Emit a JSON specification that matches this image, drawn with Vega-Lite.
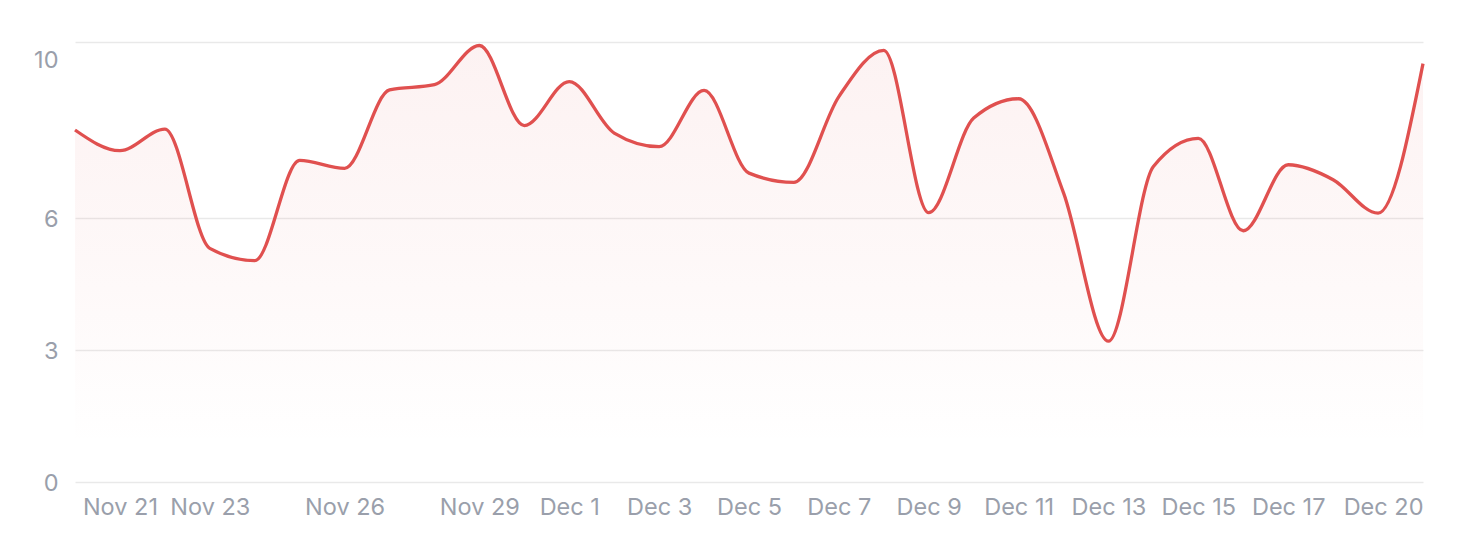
{
  "$schema": "https://vega.github.io/schema/vega-lite/v6.json",
  "width": 1348,
  "height": 440,
  "autosize": {"type": "none"},
  "padding": {"left": 75, "top": 42, "right": 35, "bottom": 64},
  "background": "white",
  "config": {"view": {"stroke": null}, "font": "Inter"},
  "data": {
    "values": [
      {"date": "2023-11-20", "value": 8.0},
      {"date": "2023-11-21", "value": 7.53},
      {"date": "2023-11-22", "value": 8.02},
      {"date": "2023-11-23", "value": 5.31},
      {"date": "2023-11-24", "value": 5.03},
      {"date": "2023-11-25", "value": 7.31},
      {"date": "2023-11-26", "value": 7.13},
      {"date": "2023-11-27", "value": 8.91},
      {"date": "2023-11-28", "value": 9.03},
      {"date": "2023-11-29", "value": 9.92},
      {"date": "2023-11-30", "value": 8.1},
      {"date": "2023-12-01", "value": 9.1},
      {"date": "2023-12-02", "value": 7.93},
      {"date": "2023-12-03", "value": 7.62},
      {"date": "2023-12-04", "value": 8.9},
      {"date": "2023-12-05", "value": 7.02},
      {"date": "2023-12-06", "value": 6.81},
      {"date": "2023-12-07", "value": 8.76},
      {"date": "2023-12-08", "value": 9.81},
      {"date": "2023-12-09", "value": 6.12},
      {"date": "2023-12-10", "value": 8.27},
      {"date": "2023-12-11", "value": 8.71},
      {"date": "2023-12-12", "value": 6.57},
      {"date": "2023-12-13", "value": 3.2},
      {"date": "2023-12-14", "value": 7.17},
      {"date": "2023-12-15", "value": 7.81},
      {"date": "2023-12-16", "value": 5.71},
      {"date": "2023-12-17", "value": 7.21},
      {"date": "2023-12-18", "value": 6.87},
      {"date": "2023-12-19", "value": 6.11},
      {"date": "2023-12-20", "value": 9.51}
    ]
  },
  "encoding": {
    "x": {
      "field": "date",
      "type": "temporal",
      "scale": {"type": "utc", "nice": false},
      "axis": {
        "title": null,
        "format": "%b %-d",
        "values": [
          {"year": 2023, "month": 11, "date": 21, "utc": true},
          {"year": 2023, "month": 11, "date": 23, "utc": true},
          {"year": 2023, "month": 11, "date": 26, "utc": true},
          {"year": 2023, "month": 11, "date": 29, "utc": true},
          {"year": 2023, "month": 12, "date": 1, "utc": true},
          {"year": 2023, "month": 12, "date": 3, "utc": true},
          {"year": 2023, "month": 12, "date": 5, "utc": true},
          {"year": 2023, "month": 12, "date": 7, "utc": true},
          {"year": 2023, "month": 12, "date": 9, "utc": true},
          {"year": 2023, "month": 12, "date": 11, "utc": true},
          {"year": 2023, "month": 12, "date": 13, "utc": true},
          {"year": 2023, "month": 12, "date": 15, "utc": true},
          {"year": 2023, "month": 12, "date": 17, "utc": true},
          {"year": 2023, "month": 12, "date": 20, "utc": true}
        ],
        "grid": false,
        "domain": false,
        "ticks": false,
        "labelFlush": true,
        "labelOverlap": false,
        "labelPadding": 13,
        "labelFontSize": 23.5,
        "labelColor": "#9a9fab"
      }
    },
    "y": {
      "field": "value",
      "type": "quantitative",
      "scale": {"domain": [0, 10], "nice": false},
      "axis": {
        "title": null,
        "values": [0, 3, 6, 10],
        "grid": true,
        "gridColor": "#e9e9e9",
        "gridWidth": 1.3,
        "domain": false,
        "ticks": false,
        "labelPadding": 17,
        "labelFontSize": 23.5,
        "labelColor": "#9a9fab",
        "labelOffset": {"condition": {"test": "datum.value === 10", "value": 18}, "value": 1}
      }
    }
  },
  "layer": [
    {
      "mark": {
        "type": "area",
        "interpolate": "monotone",
        "color": {
          "gradient": "linear",
          "x1": 0, "y1": 0, "x2": 0, "y2": 1,
          "stops": [
            {"offset": 0, "color": "rgba(224,80,80,0.075)"},
            {"offset": 0.5, "color": "rgba(224,80,80,0.04)"},
            {"offset": 0.92, "color": "rgba(224,80,80,0)"},
            {"offset": 1, "color": "rgba(224,80,80,0)"}
          ]
        }
      }
    },
    {
      "mark": {
        "type": "line",
        "interpolate": "monotone",
        "color": "#e0504f",
        "strokeWidth": 3.3
      }
    }
  ]
}
